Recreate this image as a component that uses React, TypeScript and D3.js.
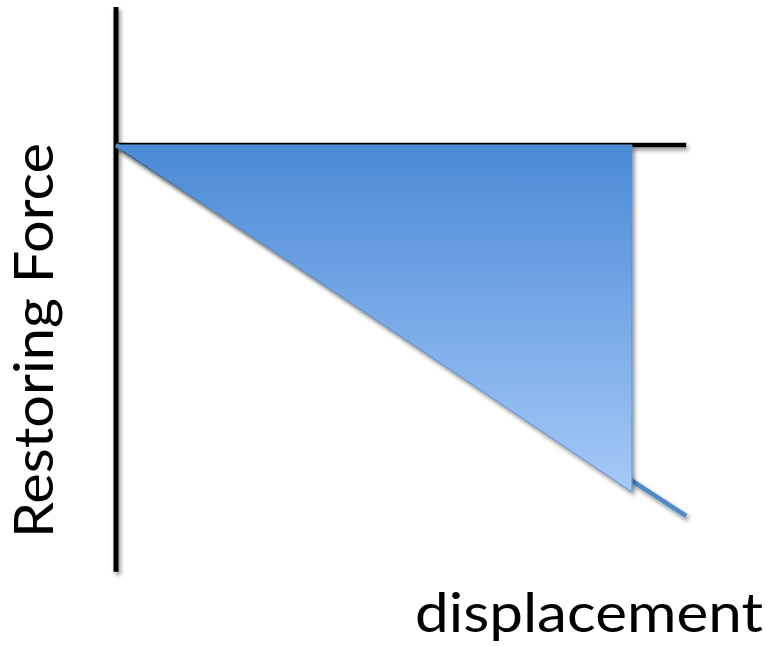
import React from "react";
import * as d3 from "d3";

// Data (normalized displacement / restoring force)
const triDisp = [0, 1, 1];
const triForce = [0, 0, -1];
const lineDisp = [0, 1.105];
const lineForce = [0, -1.069];
const vAxisForce = [0.398, -1.23];
const hAxisDisp = [0, 1.105];
const xLabel = "displacement";
const yLabel = "Restoring Force";

const W = 769;
const H = 646;

export default function App() {
  const x = d3.scaleLinear().domain([0, 1]).range([116, 632]);
  const y = d3.scaleLinear().domain([0, -1]).range([145, 492]);

  const tri = d3
    .line<number>()
    .x((_, i) => x(triDisp[i]))
    .y((_, i) => y(triForce[i]))
    .curve(d3.curveLinearClosed)(triDisp.map((d) => d)) as string;

  const ln = d3
    .line<number>()
    .x((_, i) => x(lineDisp[i]))
    .y((_, i) => y(lineForce[i]))(lineDisp) as string;

  return (
    <svg
      width={W}
      height={H}
      style={{ position: "absolute", left: 0, top: 0, background: "#fff" }}
    >
      <defs>
        <linearGradient id="g" x1="0" y1="0" x2="0" y2="1">
          <stop offset="0%" stopColor="#4a8ad5" />
          <stop offset="100%" stopColor="#a6c9f8" />
        </linearGradient>
        <filter id="sh" filterUnits="userSpaceOnUse" x={0} y={0} width={W} height={H}>
          <feDropShadow dx="2" dy="3" stdDeviation="2" floodColor="#000" floodOpacity="0.45" />
        </filter>
      </defs>
      {/* vertical axis */}
      <line
        x1={x(0)}
        x2={x(0)}
        y1={y(vAxisForce[0])}
        y2={y(vAxisForce[1])}
        stroke="#000"
        strokeWidth={5}
        filter="url(#sh)"
      />
      {/* horizontal axis */}
      <line
        x1={x(hAxisDisp[0])}
        x2={x(hAxisDisp[1])}
        y1={y(0)}
        y2={y(0)}
        stroke="#000"
        strokeWidth={4.5}
        filter="url(#sh)"
      />
      {/* blue force line */}
      <path d={ln} stroke="#4f89c9" strokeWidth={4.5} fill="none" filter="url(#sh)" />
      {/* triangle area */}
      <path d={tri} fill="url(#g)" stroke="#5b8fcf" strokeWidth={1} filter="url(#sh)" />
      <text
        x={415}
        y={632}
        fontFamily="Lato, 'Open Sans', sans-serif"
        fontSize={54}
        textLength={348}
        lengthAdjust="spacingAndGlyphs"
        fill="#000"
      >
        {xLabel}
      </text>
      <text
        transform={`translate(53,538) rotate(-90)`}
        fontFamily="Lato, 'Open Sans', sans-serif"
        fontSize={54}
        textLength={395}
        lengthAdjust="spacingAndGlyphs"
        fill="#000"
      >
        {yLabel}
      </text>
    </svg>
  );
}
